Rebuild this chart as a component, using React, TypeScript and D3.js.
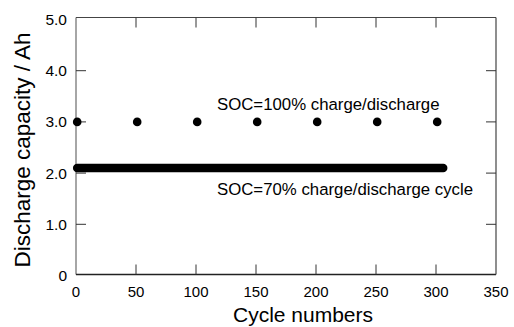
import React from 'react';
import * as d3 from 'd3';

// SOC=100% runs: a point every 50 cycles
const soc100Cycles = [1, 51, 101, 151, 201, 251, 301];
const soc100Capacity = [3.0, 3.0, 3.0, 3.0, 3.0, 3.0, 3.0];
// SOC=70% runs: a dot every cycle, merged into a band (first and last cycle)
const soc70Cycles = [1, 306];
const soc70Capacity = [2.1, 2.1];

const xTicks = [0, 50, 100, 150, 200, 250, 300, 350];
const yTicks = [0, 1, 2, 3, 4, 5];
const yTickLabels = ['0', '1.0', '2.0', '3.0', '4.0', '5.0'];

export default function App() {
  const W = 514, H = 327;
  const x = d3.scaleLinear().domain([0, 350]).range([76, 496]);
  const y = d3.scaleLinear().domain([0, 5]).range([275.5, 19.5]);
  const font = 'Liberation Sans, Arial, sans-serif';
  const tl = 10;

  const band = d3.line<number>()
    .x((c) => x(c))
    .y((_, i) => y(soc70Capacity[i]))(soc70Cycles);

  const x0 = x(0), x1 = x(350);
  const fy0 = 274.5, fy1 = 17.5;

  return (
    <svg width={W} height={H} style={{ position: 'absolute', left: 0, top: 0 }}>
      <rect x={0} y={0} width={W} height={H} fill="#fff" />
      {/* frame */}
      <line x1={x0} y1={fy0} x2={x0} y2={fy1} stroke="#888" strokeWidth={1.5} />
      <line x1={x0} y1={fy0} x2={x1} y2={fy0} stroke="#222" strokeWidth={1.5} />
      <line x1={x0} y1={fy1} x2={x1} y2={fy1} stroke="#444" strokeWidth={1.2} />
      <line x1={x1} y1={fy0} x2={x1} y2={fy1} stroke="#444" strokeWidth={1.2} />
      {xTicks.slice(1, -1).map((t) => (
        <g key={'xt' + t}>
          <line x1={x(t)} x2={x(t)} y1={fy0} y2={fy0 - tl} stroke="#333" />
          <line x1={x(t)} x2={x(t)} y1={fy1} y2={fy1 + tl} stroke="#333" />
        </g>
      ))}
      {yTicks.slice(1, -1).map((t) => (
        <g key={'yt' + t}>
          <line x1={x0} x2={x0 + tl} y1={y(t)} y2={y(t)} stroke="#333" />
          <line x1={x1} x2={x1 - tl} y1={y(t)} y2={y(t)} stroke="#333" />
        </g>
      ))}
      {xTicks.map((t) => (
        <text key={'xl' + t} x={x(t)} y={297} textAnchor="middle" fontFamily={font} fontSize={15}>{t}</text>
      ))}
      {yTicks.map((t, i) => (
        <text key={'yl' + t} x={x0 - 9} y={y(t) + 5.5} textAnchor="end" fontFamily={font} fontSize={15.5}>{yTickLabels[i]}</text>
      ))}
      {/* data */}
      <path d={band ?? ''} stroke="#000" strokeWidth={8.5} strokeLinecap="round" fill="none" />
      {soc100Cycles.map((c, i) => (
        <circle key={'p' + c} cx={x(c)} cy={y(soc100Capacity[i])} r={4.3} fill="#000" />
      ))}
      <text x={217} y={110} fontFamily={font} fontSize={16.8}>SOC=100% charge/discharge</text>
      <text x={217} y={195} fontFamily={font} fontSize={16.8}>SOC=70% charge/discharge cycle</text>
      <text x={303} y={322} textAnchor="middle" fontFamily={font} fontSize={21}>Cycle numbers</text>
      <text transform={`translate(29.5,150) rotate(-90)`} textAnchor="middle" fontFamily={font} fontSize={22.5}>Discharge capacity / Ah</text>
    </svg>
  );
}
